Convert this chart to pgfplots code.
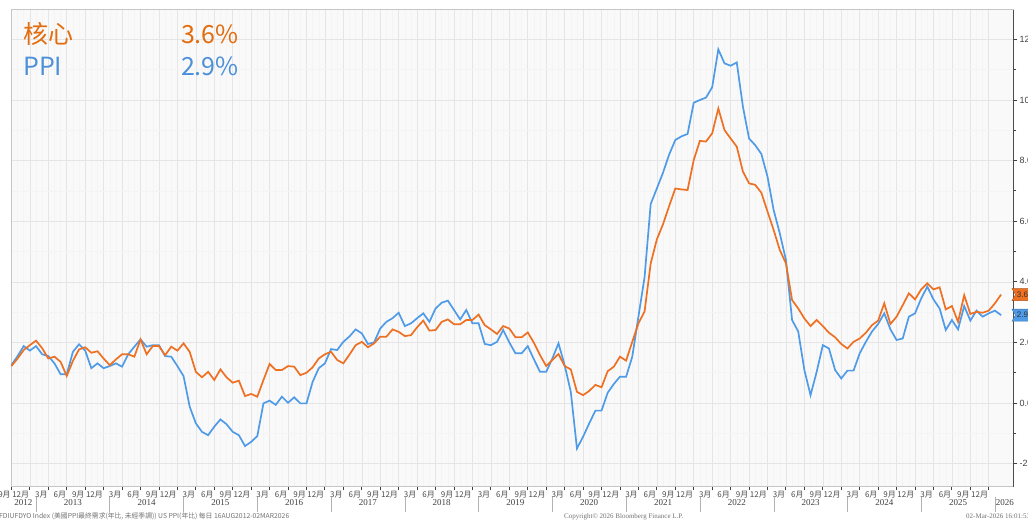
\documentclass[border=0pt]{standalone}
\usepackage{fontspec}
\setmainfont{Liberation Sans}
\newfontfamily\cjk{Noto Sans CJK TC}
\newfontfamily\serifnum{Liberation Serif}
\usepackage{pgfplots}
\pgfplotsset{compat=1.18}
\usetikzlibrary{shapes.symbols}
\definecolor{coreor}{RGB}{238,112,34}
\definecolor{ppibl}{RGB}{80,155,232}
\definecolor{legor}{RGB}{226,108,14}
\definecolor{legbl}{RGB}{76,144,218}
\begin{document}
\begin{tikzpicture}[x=1pt,y=1pt]
\path[use as bounding box, fill=white] (0,0) rectangle (1028,521);
\begin{axis}[
  at={(11pt,34pt)}, anchor=south west,
  width=1003pt, height=477pt, scale only axis,
  xmin=7.93, xmax=171.1, ymin=-2.77, ymax=12.97,
  clip=false,
  axis background/.style={fill=gray!5},
  axis line style={gray!45, line width=1pt},
  ytick={-2,0,...,12}, minor ytick={-1,1,...,11},
  ytick pos=right, yticklabel pos=right,
  yticklabel style={font=\fontsize{9}{9}\selectfont, text=black!75, inner sep=1pt, xshift=1pt,
    /pgf/number format/fixed, /pgf/number format/fixed zerofill, /pgf/number format/precision=1},
  /pgf/number format/assume math mode=true,
  xtick={8,11,...,167},
  minor x tick num=2,
  xtick pos=bottom,
  xticklabels={9月,12月,3月,6月,9月,12月,3月,6月,9月,12月,3月,6月,9月,12月,3月,6月,9月,12月,3月,6月,9月,12月,3月,6月,9月,12月,3月,6月,9月,12月,3月,6月,9月,12月,3月,6月,9月,12月,3月,6月,9月,12月,3月,6月,9月,12月,3月,6月,9月,12月,3月,6月,9月,12月},
  xticklabel style={font=\cjk\fontsize{8}{8}\selectfont, text=black!70, anchor=north east, inner sep=0.5pt, yshift=-0.5pt},
  tick align=outside,
  major tick length=3.5pt, minor tick length=2.5pt,
  tick style={black!75, line width=0.9pt},
  minor x tick style={draw=none},
  grid=both,
  major grid style={gray!20, line width=0.6pt},
  minor grid style={gray!9, line width=0.5pt},
  extra x ticks={9.95,18,30,42,54,66,78,90,102,114,126,138,150,162,169.6},
  extra x tick labels={2012,2013,2014,2015,2016,2017,2018,2019,2020,2021,2022,2023,2024,2025,2026},
  extra x tick style={grid=none, major tick length=0pt,
    xticklabel style={font=\serifnum\fontsize{9}{9}\selectfont, text=black!75, anchor=north, yshift=-11pt}},
]
\addplot[ppibl, line width=1.7pt] coordinates {
(8,1.25)(9,1.55)(10,1.88)(11,1.73)(12,1.88)(13,1.61)(14,1.55)(15,1.31)(16,0.95)(17,0.95)(18,1.69)(19,1.94)(20,1.73)(21,1.15)(22,1.31)(23,1.15)(24,1.22)(25,1.31)(26,1.20)(27,1.61)(28,1.86)(29,2.10)(30,1.86)(31,1.91)(32,1.91)(33,1.55)(34,1.53)(35,1.22)(36,0.89)(37,-0.12)(38,-0.67)(39,-0.95)(40,-1.06)(41,-0.78)(42,-0.54)(43,-0.70)(44,-0.95)(45,-1.06)(46,-1.42)(47,-1.28)(48,-1.09)(49,-0.01)(50,0.08)(51,-0.06)(52,0.21)(53,0.01)(54,0.19)(55,-0.01)(56,-0.01)(57,0.70)(58,1.15)(59,1.31)(60,1.78)(61,1.75)(62,2.02)(63,2.20)(64,2.43)(65,2.30)(66,1.95)(67,2.00)(68,2.46)(69,2.68)(70,2.80)(71,2.98)(72,2.54)(73,2.63)(74,2.80)(75,2.96)(76,2.68)(77,3.12)(78,3.31)(79,3.38)(80,3.07)(81,2.76)(82,3.07)(83,2.63)(84,2.63)(85,1.95)(86,1.91)(87,2.02)(88,2.41)(89,2.00)(90,1.64)(91,1.64)(92,1.88)(93,1.44)(94,1.03)(95,1.03)(96,1.47)(97,1.97)(98,1.25)(99,0.37)(100,-1.50)(101,-1.11)(102,-0.67)(103,-0.25)(104,-0.25)(105,0.34)(106,0.63)(107,0.87)(108,0.87)(109,1.53)(110,2.85)(111,4.15)(112,6.57)(113,7.08)(114,7.60)(115,8.20)(116,8.68)(117,8.80)(118,8.88)(119,9.91)(120,10.00)(121,10.08)(122,10.42)(123,11.67)(124,11.21)(125,11.13)(126,11.24)(127,9.78)(128,8.73)(129,8.51)(130,8.22)(131,7.47)(132,6.37)(133,5.60)(134,4.72)(135,2.74)(136,2.36)(137,1.09)(138,0.26)(139,1.03)(140,1.91)(141,1.80)(142,1.09)(143,0.81)(144,1.07)(145,1.07)(146,1.64)(147,2.02)(148,2.36)(149,2.61)(150,2.96)(151,2.43)(152,2.08)(153,2.13)(154,2.85)(155,2.96)(156,3.45)(157,3.84)(158,3.42)(159,3.12)(160,2.41)(161,2.74)(162,2.43)(163,3.20)(164,2.72)(165,3.05)(166,2.85)(167,2.96)(168,3.05)(169,2.90)
};
\addplot[coreor, line width=1.7pt] coordinates {
(8,1.22)(9,1.47)(10,1.75)(11,1.91)(12,2.06)(13,1.81)(14,1.47)(15,1.53)(16,1.36)(17,0.89)(18,1.39)(19,1.77)(20,1.84)(21,1.66)(22,1.71)(23,1.47)(24,1.25)(25,1.44)(26,1.61)(27,1.61)(28,1.53)(29,2.10)(30,1.61)(31,1.88)(32,1.88)(33,1.58)(34,1.86)(35,1.73)(36,1.97)(37,1.69)(38,1.03)(39,0.85)(40,1.03)(41,0.76)(42,1.11)(43,0.85)(44,0.67)(45,0.74)(46,0.23)(47,0.30)(48,0.21)(49,0.76)(50,1.29)(51,1.09)(52,1.09)(53,1.22)(54,1.20)(55,0.92)(56,1.00)(57,1.18)(58,1.47)(59,1.61)(60,1.69)(61,1.42)(62,1.31)(63,1.60)(64,1.91)(65,2.02)(66,1.84)(67,1.97)(68,2.19)(69,2.19)(70,2.43)(71,2.35)(72,2.21)(73,2.24)(74,2.50)(75,2.72)(76,2.39)(77,2.41)(78,2.68)(79,2.76)(80,2.60)(81,2.60)(82,2.74)(83,2.74)(84,2.92)(85,2.57)(86,2.43)(87,2.28)(88,2.54)(89,2.46)(90,2.17)(91,2.17)(92,2.33)(93,1.99)(94,1.58)(95,1.22)(96,1.42)(97,1.62)(98,1.22)(99,1.11)(100,0.37)(101,0.26)(102,0.40)(103,0.60)(104,0.52)(105,1.05)(106,1.20)(107,1.53)(108,1.40)(109,2.02)(110,2.63)(111,3.02)(112,4.61)(113,5.40)(114,5.90)(115,6.50)(116,7.08)(117,7.05)(118,7.03)(119,8.02)(120,8.65)(121,8.63)(122,8.90)(123,9.72)(124,9.01)(125,8.73)(126,8.46)(127,7.64)(128,7.25)(129,7.20)(130,6.94)(131,6.32)(132,5.71)(133,5.05)(134,4.61)(135,3.40)(136,3.12)(137,2.79)(138,2.54)(139,2.74)(140,2.54)(141,2.32)(142,2.17)(143,1.95)(144,1.80)(145,2.02)(146,2.13)(147,2.32)(148,2.57)(149,2.72)(150,3.29)(151,2.61)(152,2.85)(153,3.23)(154,3.62)(155,3.42)(156,3.75)(157,3.95)(158,3.75)(159,3.82)(160,3.09)(161,3.20)(162,2.68)(163,3.56)(164,2.94)(165,3.01)(166,2.98)(167,3.05)(168,3.29)(169,3.58)
};
\draw[black!70, line width=1pt] (rel axis cs:1,0) -- (rel axis cs:1,1);
\node[signal, signal from=west, signal pointer angle=120, fill=coreor, draw=coreor!75!black, text=black!80,
  font=\fontsize{8}{8}\selectfont, inner sep=1.5pt, minimum height=12pt, anchor=west] at (axis cs:171.3,3.58) {3.6};
\node[signal, signal from=west, signal pointer angle=120, fill=ppibl, draw=ppibl!75!black, text=black!80,
  font=\fontsize{8}{8}\selectfont, inner sep=1.5pt, minimum height=12pt, anchor=west] at (axis cs:171.3,2.90) {2.9};
\end{axis}
% year separators
\foreach \i in {0,...,13} {
  \draw[gray!60, line width=0.6pt] ({36+73.78*\i},24) -- ({36+73.78*\i},9);
}
% legend text
\node[anchor=base west, inner sep=0, text=legor, font=\cjk\fontsize{25}{25}\selectfont] at (23,477) {核心};
\node[anchor=base east, inner sep=0, text=legor, font=\cjk\fontsize{25}{25}\selectfont] at (239,477.5) {3.6\%};
\node[anchor=base west, inner sep=0, text=legbl, font=\cjk\fontsize{25}{25}\selectfont] at (23,445) {PPI};
\node[anchor=base east, inner sep=0, text=legbl, font=\cjk\fontsize{25}{25}\selectfont] at (239,445) {2.9\%};
% footer
\node[anchor=base west, inner sep=0, text=black!55, font=\cjk\fontsize{6.8}{6.8}\selectfont] at (-1,2) {FDIUFDYO Index (美國PPI最終需求(年比, 未經季調)) US PPI(年比) 每日 16AUG2012-02MAR2026};
\node[anchor=base west, inner sep=0, text=black!55, font=\serifnum\fontsize{7}{7}\selectfont] at (564,2) {Copyright© 2026 Bloomberg Finance L.P.};
\node[anchor=base west, inner sep=0, text=black!55, font=\serifnum\fontsize{7}{7}\selectfont] at (966,2) {02-Mar-2026 16:01:53};
\end{tikzpicture}
\end{document}
